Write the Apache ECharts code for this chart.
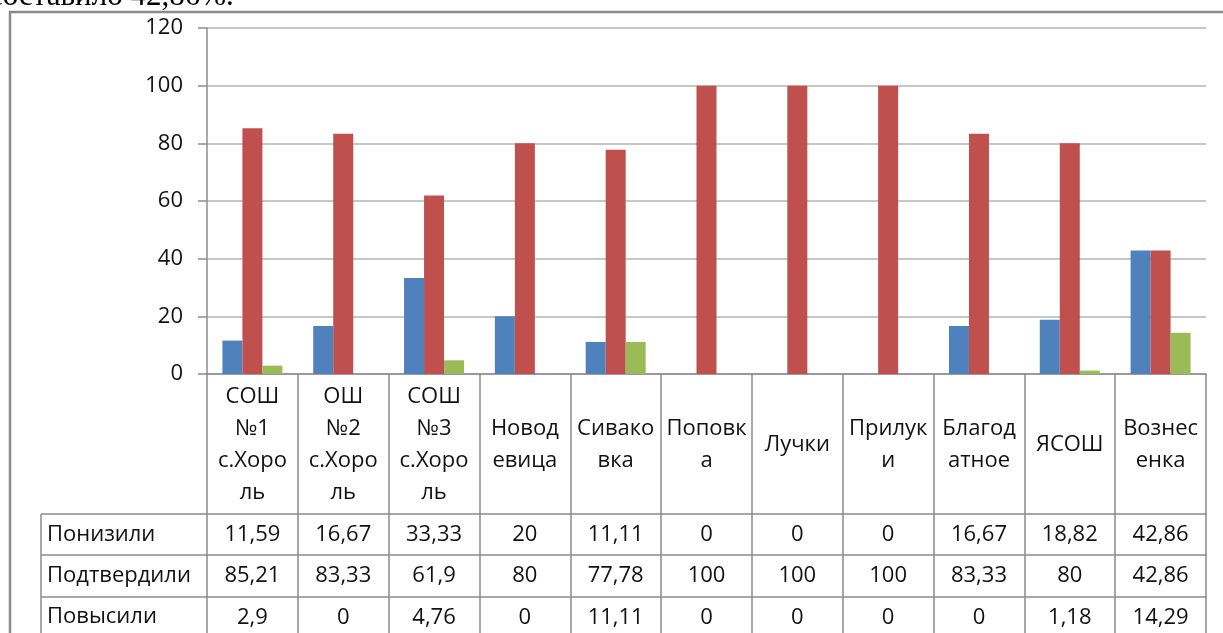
<!DOCTYPE html>
<html>
<head>
<meta charset="utf-8">
<script src="https://cdn.jsdelivr.net/npm/echarts@6/dist/echarts.min.js"></script>
<style>
  html, body { margin: 0; padding: 0; background: #fff; }
  #chart { width: 1223px; height: 633px; }
</style>
</head>
<body>
<div id="chart"></div>
<script>
// категории (перенос строк как в исходной диаграмме)
var categories = [
  "СОШ\n№1\nс.Хоро\nль", "ОШ\n№2\nс.Хоро\nль", "СОШ\n№3\nс.Хоро\nль",
  "Новод\nевица", "Сивако\nвка", "Поповк\nа", "Лучки", "Прилук\nи",
  "Благод\nатное", "ЯСОШ", "Вознес\nенка"
];
var seriesNames = ["Понизили", "Подтвердили", "Повысили"];
var ponizili = [11.59, 16.67, 33.33, 20, 11.11, 0, 0, 0, 16.67, 18.82, 42.86];
var podtverdili = [85.21, 83.33, 61.9, 80, 77.78, 100, 100, 100, 83.33, 80, 42.86];
var povysili = [2.9, 0, 4.76, 0, 11.11, 0, 0, 0, 0, 1.18, 14.29];
var yTicks = [0, 20, 40, 60, 80, 100, 120];

var colors = ["#4F81BD", "#C0504D", "#9BBB59"];
var font = "Open Sans";
var fontSize = 22;
var lineColor = "#8c8c8c";

function fmt(v) {
  return String(v).replace(".", ",");
}

var myChart = echarts.init(document.getElementById("chart"));

// строки таблицы данных под осью
var rows = [ponizili, podtverdili, povysili];
var rowOffsets = [140, 181, 223];
var rowTick = [41, 42, 60];

var xAxes = [{
  type: "category",
  data: categories,
  position: "bottom",
  axisLine: { lineStyle: { color: lineColor, width: 1.5 } },
  axisTick: { show: true, interval: 0, length: 140, lineStyle: { color: lineColor, width: 1.5 } },
  axisLabel: {
    interval: 0,
    margin: 71,
    verticalAlign: "middle",
    lineHeight: 32,
    fontFamily: font,
    fontSize: fontSize,
    color: "#111"
  }
}];
rows.forEach(function(r, i) {
  xAxes.push({
    type: "category",
    data: r.map(fmt),
    position: "bottom",
    offset: rowOffsets[i],
    axisLine: { show: true, lineStyle: { color: lineColor, width: 1.5 } },
    axisTick: { show: true, interval: 0, length: rowTick[i], lineStyle: { color: lineColor, width: 1.5 } },
    axisLabel: {
      interval: 0,
      margin: 21,
      verticalAlign: "middle",
      fontFamily: font,
      fontSize: fontSize,
      color: "#111"
    }
  });
});

var graphics = [
  // рамка диаграммы
  { type: "rect", shape: { x: 10, y: 12, width: 1400, height: 800 },
    style: { fill: "none", stroke: "#8a8a8a", lineWidth: 2.5 } },
  // обрывок текста документа сверху
  { type: "text", left: -11, top: -19,
    style: { text: "составило 42,86%.", font: "31px 'Liberation Serif'", fill: "#000" } }
];
// левая колонка таблицы
[514, 555, 597].forEach(function(y) {
  graphics.push({ type: "line", shape: { x1: 41, y1: y, x2: 207, y2: y },
    style: { stroke: lineColor, lineWidth: 1.5 } });
});
graphics.push({ type: "line", shape: { x1: 41, y1: 514, x2: 41, y2: 640 },
  style: { stroke: lineColor, lineWidth: 1.5 } });
[535, 576, 617].forEach(function(y, i) {
  graphics.push({ type: "text", x: 47, y: y,
    style: { text: seriesNames[i], font: fontSize + "px '" + font + "'", fill: "#111",
      verticalAlign: "middle" } });
});

myChart.setOption({
  animation: false,
  color: colors,
  grid: { left: 207, right: 17, top: 28, bottom: 259, containLabel: false },
  xAxis: xAxes,
  yAxis: {
    type: "value",
    min: yTicks[0],
    max: yTicks[yTicks.length - 1],
    interval: 20,
    axisLine: { show: true, lineStyle: { color: lineColor, width: 1.5 } },
    axisTick: { show: true, length: 9, lineStyle: { color: lineColor, width: 1.5 } },
    axisLabel: { margin: 24, fontFamily: font, fontSize: fontSize, color: "#111" },
    splitLine: { lineStyle: { color: "#b4b4b4", width: 1.5 } }
  },
  graphic: graphics,
  series: [
    { name: seriesNames[0], type: "bar", data: ponizili, barWidth: 20, barGap: "0%" },
    { name: seriesNames[1], type: "bar", data: podtverdili, barWidth: 20, barGap: "0%" },
    { name: seriesNames[2], type: "bar", data: povysili, barWidth: 20, barGap: "0%" }
  ]
});
</script>
</body>
</html>
